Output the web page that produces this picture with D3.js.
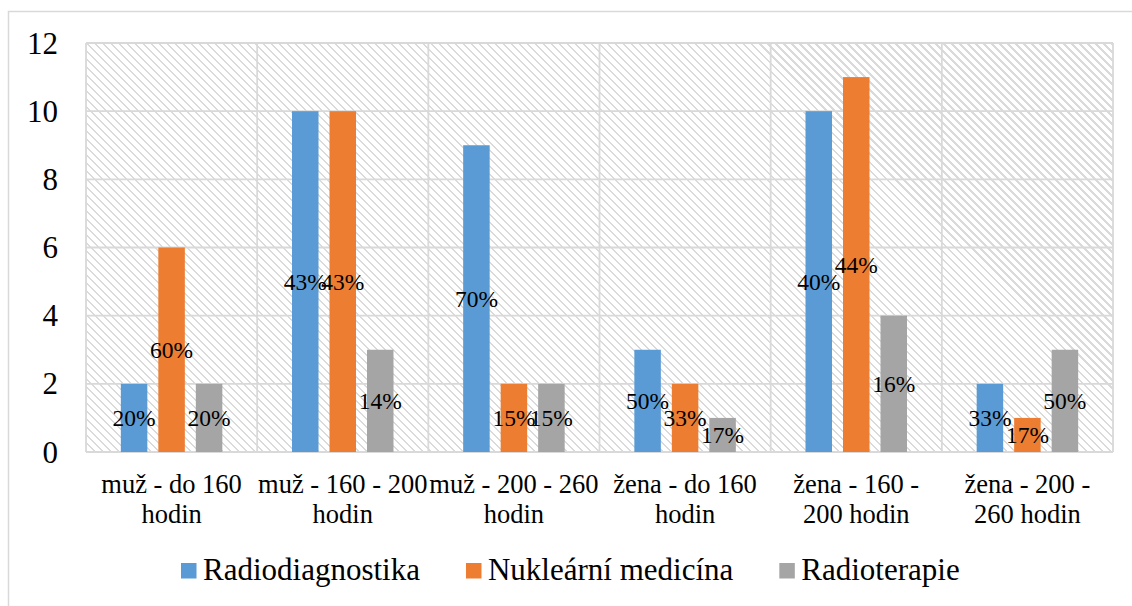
<!DOCTYPE html>
<html>
<head>
<meta charset="utf-8">
<script src="https://cdn.jsdelivr.net/npm/d3@7"></script>
</head>
<body style="margin:0">
<div id="wrap" style="position:relative;width:1132px;height:606px;background:#fff;overflow:hidden">
  <div id="hatch" style="position:absolute"></div>
  <svg id="s" width="1132" height="606" style="position:absolute;left:0;top:0"></svg>
</div>
<script>
const categories = [
  ["muž - do 160", "hodin"],
  ["muž - 160 - 200", "hodin"],
  ["muž - 200 - 260", "hodin"],
  ["žena - do 160", "hodin"],
  ["žena - 160 -", "200 hodin"],
  ["žena - 200 -", "260 hodin"]
];
const seriesNames = ["Radiodiagnostika", "Nukleární medicína", "Radioterapie"];
const radiodiagnostika = [2, 10, 9, 3, 10, 2];
const nuklearni = [6, 10, 2, 2, 11, 1];
const radioterapie = [2, 3, 2, 1, 4, 3];
const labelsRadiodiagnostika = ["20%", "43%", "70%", "50%", "40%", "33%"];
const labelsNuklearni = ["60%", "43%", "15%", "33%", "44%", "17%"];
const labelsRadioterapie = ["20%", "14%", "15%", "17%", "16%", "50%"];
const yTicks = [0, 2, 4, 6, 8, 10, 12];
const colors = ["#5B9BD5", "#ED7D31", "#A5A5A5"];

const seriesValues = [radiodiagnostika, nuklearni, radioterapie];
const seriesLabels = [labelsRadiodiagnostika, labelsNuklearni, labelsRadioterapie];
const FONT = "Liberation Serif";

const svg = d3.select("#s");
const plot = { left: 86, right: 1113, top: 43, bottom: 452 };

// hatched plot-area background (CSS stripes under the svg)
d3.select("#hatch")
  .style("left", plot.left + "px").style("top", plot.top + "px")
  .style("width", (plot.right - plot.left) + "px").style("height", (plot.bottom - plot.top) + "px")
  .style("background", "repeating-linear-gradient(45deg, #dadada 0px, #dadada 1.7px, #ffffff 1.7px, #ffffff 5.66px)");

// outer chart border
svg.append("rect")
  .attr("x", 8.5).attr("y", 11.5)
  .attr("width", 1300).attr("height", 800)
  .attr("fill", "none").attr("stroke", "#d9d9d9").attr("stroke-width", 1.5);

const x0 = d3.scaleBand()
  .domain(d3.range(categories.length))
  .range([plot.left, plot.right])
  .paddingInner(0).paddingOuter(0);

const cw = x0.bandwidth();
const groupW = 101.5;
const x1 = d3.scaleBand()
  .domain(d3.range(seriesNames.length))
  .range([(cw - groupW) / 2, (cw + groupW) / 2])
  .paddingInner(0.293).paddingOuter(0);

const y = d3.scaleLinear().domain([0, 12]).range([plot.bottom, plot.top]);

// horizontal gridlines
svg.append("g").selectAll("line").data(yTicks).join("line")
  .attr("x1", plot.left).attr("x2", plot.right)
  .attr("y1", d => y(d)).attr("y2", d => y(d))
  .attr("stroke", "#d9d9d9").attr("stroke-width", 1.8);

// vertical gridlines at category boundaries
const bounds = d3.range(categories.length + 1).map(i => i < categories.length ? x0(i) : plot.right);
svg.append("g").selectAll("line").data(bounds).join("line")
  .attr("x1", d => d).attr("x2", d => d)
  .attr("y1", plot.top).attr("y2", plot.bottom)
  .attr("stroke", "#d9d9d9").attr("stroke-width", 1.8);

// bars
seriesValues.forEach((vals, si) => {
  svg.append("g").selectAll("rect").data(vals).join("rect")
    .attr("x", (d, ci) => x0(ci) + x1(si))
    .attr("width", x1.bandwidth())
    .attr("y", d => y(d))
    .attr("height", d => y(0) - y(d))
    .attr("fill", colors[si]);
});

// data labels (centered in bars)
seriesValues.forEach((vals, si) => {
  vals.forEach((v, ci) => {
    svg.append("text")
      .attr("x", x0(ci) + x1(si) + x1.bandwidth() / 2)
      .attr("y", y(v / 2) + 8)
      .attr("text-anchor", "middle")
      .style("font-family", FONT)
      .attr("font-size", 23.5)
      .attr("fill", "#000")
      .text(seriesLabels[si][ci]);
  });
});

// y axis labels
yTicks.forEach(t => {
  svg.append("text")
    .attr("x", 58).attr("y", y(t) + 10.5)
    .attr("text-anchor", "end")
    .style("font-family", FONT)
    .attr("font-size", 31)
    .attr("fill", "#000")
    .text(t);
});

// x axis labels
categories.forEach((lines, i) => {
  lines.forEach((ln, li) => {
    svg.append("text")
      .attr("x", x0(i) + cw / 2).attr("y", 493 + li * 30)
      .attr("text-anchor", "middle")
      .style("font-family", FONT)
      .attr("font-size", 26.5)
      .attr("fill", "#000")
      .text(ln);
  });
});

// legend
let lx = 181;
seriesNames.forEach((name, i) => {
  svg.append("rect")
    .attr("x", lx).attr("y", 563).attr("width", 15.5).attr("height", 15.5)
    .attr("fill", colors[i]);
  const t = svg.append("text")
    .attr("x", lx + 22).attr("y", 580)
    .style("font-family", FONT)
    .attr("font-size", 31).attr("fill", "#000")
    .text(name);
  lx = lx + 22 + t.node().getComputedTextLength() + 46;
});
</script>
</body>
</html>
